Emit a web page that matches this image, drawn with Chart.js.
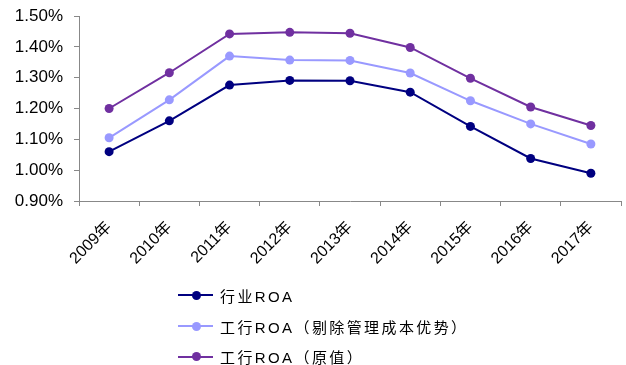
<!DOCTYPE html>
<html>
<head>
<meta charset="utf-8">
<script src="https://cdn.jsdelivr.net/npm/chart.js@4.4.1/dist/chart.umd.min.js"></script>
<style>
  body { margin: 0; background: #fff; }
  #wrap { position: relative; width: 626px; height: 365px; }
  #legend { position: absolute; left: 178px; top: 280px; font-family: "Liberation Sans", "Noto Sans CJK SC", sans-serif; font-size: 15px; letter-spacing: 2.4px; color: #000; }
  .item { height: 30.7px; display: flex; align-items: center; }
  .key { position: relative; width: 35px; height: 2px; margin-right: 7px; }
  .key span { position: absolute; left: 14px; top: -3.5px; width: 9px; height: 9px; border-radius: 50%; }
</style>
</head>
<body>
<div id="wrap">
  <canvas id="roaChart"></canvas>
  <div id="legend"></div>
</div>
<script>
/** 数据 **/
const years = ['2009年', '2010年', '2011年', '2012年', '2013年', '2014年', '2015年', '2016年', '2017年'];
const industryRoa = [1.06, 1.16, 1.276, 1.291, 1.29, 1.253, 1.142, 1.038, 0.99];
const icbcAdjRoa = [1.105, 1.228, 1.37, 1.357, 1.356, 1.315, 1.225, 1.15, 1.085];
const icbcRawRoa = [1.20, 1.316, 1.442, 1.447, 1.444, 1.398, 1.298, 1.205, 1.145];
const seriesNames = ['行业ROA', '工行ROA（剔除管理成本优势）', '工行ROA（原值）'];
const seriesColors = ['#000080', '#9999FF', '#7030A0'];

const font = "'Liberation Sans', 'Noto Sans CJK SC', sans-serif";

const datasets = [industryRoa, icbcAdjRoa, icbcRawRoa].map((values, i) => ({
  label: seriesNames[i],
  data: values,
  borderColor: seriesColors[i],
  backgroundColor: seriesColors[i],
  borderWidth: 2,
  pointRadius: 4.5,
  pointBorderWidth: 0,
  tension: 0
}));

const config = {
  type: 'line',
  data: { labels: years, datasets },
  options: {
    responsive: false,
    animation: false,
    layout: { padding: { top: 16, right: 5, left: 0, bottom: 0 } },
    plugins: { legend: { display: false }, tooltip: { enabled: false } },
    scales: {
      x: {
        offset: true,
        grid: { offset: true, drawOnChartArea: false, tickLength: 5, color: '#888' },
        border: { color: '#888', width: 1 },
        ticks: { minRotation: 45, maxRotation: 45, color: '#000', font: { family: font, size: 16 }, padding: 12 },
        afterFit: s => { s.height = 164; }
      },
      y: {
        min: 0.9,
        max: 1.5,
        grid: { drawOnChartArea: false, tickLength: 5, color: '#888' },
        border: { color: '#888', width: 1 },
        ticks: {
          stepSize: 0.1,
          color: '#000',
          padding: 11,
          font: { family: font, size: 17 },
          callback: v => v.toFixed(2) + '%'
        },
        // fixed axis width, no extra space above/below for labels
        afterFit: s => { s.width = 79; s.paddingTop = 0; s.paddingBottom = 0; }
      }
    }
  }
};

const canvas = document.getElementById('roaChart');
canvas.width = 626;
canvas.height = 365;
var roaChart = new Chart(canvas, config);

// 图例
const legend = document.getElementById('legend');
seriesNames.forEach((name, i) => {
  const row = document.createElement('div');
  row.className = 'item';
  row.innerHTML = '<div class="key" style="background:' + seriesColors[i] + '"><span style="background:' + seriesColors[i] + '"></span></div>' + name;
  legend.appendChild(row);
});
</script>
</body>
</html>
